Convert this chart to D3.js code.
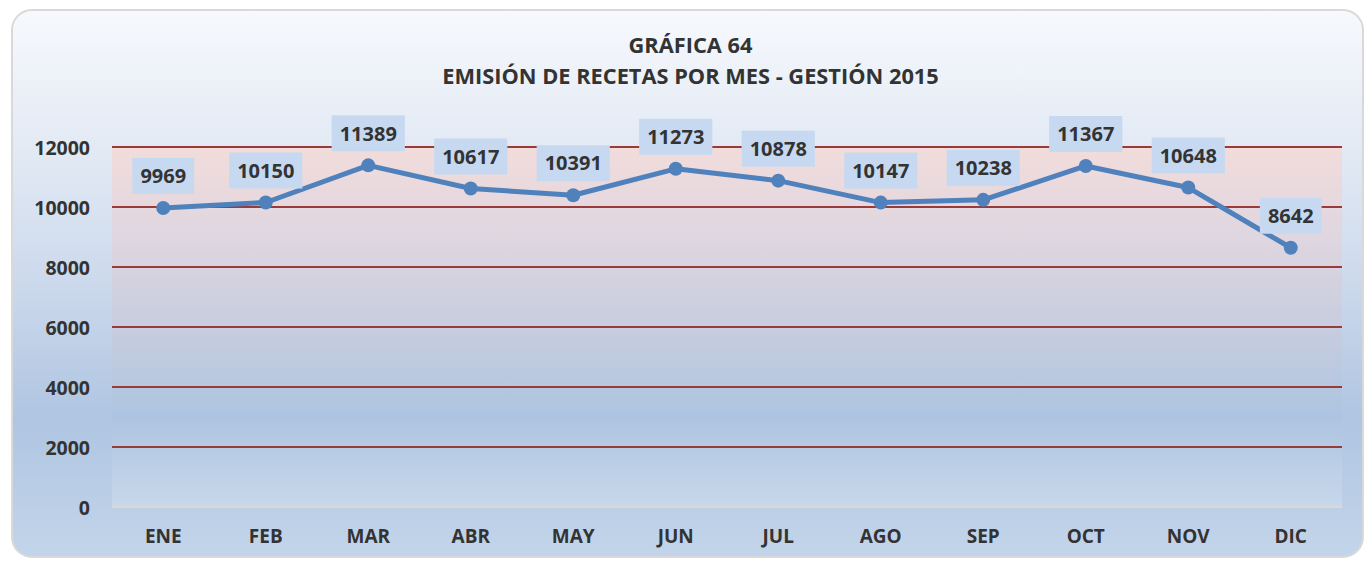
<!DOCTYPE html>
<html>
<head>
<meta charset="utf-8">
<script src="https://cdn.jsdelivr.net/npm/d3@7"></script>
<style>
  html, body { margin: 0; padding: 0; background: #ffffff; }
  svg { display: block; }
  text { font-family: "Open Sans", sans-serif; font-weight: 700; fill: #333333; }
</style>
</head>
<body>
<svg id="chart" width="1368" height="561"></svg>
<script>
const titleLines = ["GRÁFICA 64", "EMISIÓN DE RECETAS POR MES - GESTIÓN 2015"];
const months = ["ENE", "FEB", "MAR", "ABR", "MAY", "JUN", "JUL", "AGO", "SEP", "OCT", "NOV", "DIC"];
const recetas = [9969, 10150, 11389, 10617, 10391, 11273, 10878, 10147, 10238, 11367, 10648, 8642];
const yTicks = [0, 2000, 4000, 6000, 8000, 10000, 12000];

const W = 1368, H = 561;
const frame = { x: 12, y: 10, w: 1351, h: 547, r: 20 };
const plot = { left: 112, right: 1342, top: 147, bottom: 507 };

const svg = d3.select("#chart");
const defs = svg.append("defs");

const bgGrad = defs.append("linearGradient").attr("id", "bgGrad")
  .attr("x1", 0).attr("y1", 0).attr("x2", 0).attr("y2", 1);
[[0, "#f7f9fd"], [0.25, "#e3eaf4"], [0.5, "#ccd9ec"], [0.75, "#afc5e1"], [1, "#c3d5ea"]]
  .forEach(([o, c]) => bgGrad.append("stop").attr("offset", o).attr("stop-color", c));

const plotGrad = defs.append("linearGradient").attr("id", "plotGrad")
  .attr("x1", 0).attr("y1", 0).attr("x2", 0).attr("y2", 1);
[[0, "#f2dcdb"], [0.25, "#dfd6e0"], [0.5, "#c8cddf"], [0.75, "#adc4e0"], [1, "#c8d8eb"]]
  .forEach(([o, c]) => plotGrad.append("stop").attr("offset", o).attr("stop-color", c));

// chart frame
svg.append("rect")
  .attr("x", frame.x).attr("y", frame.y).attr("width", frame.w).attr("height", frame.h)
  .attr("rx", frame.r).attr("ry", frame.r)
  .attr("fill", "url(#bgGrad)").attr("stroke", "#d9d9d9").attr("stroke-width", 2);

const x = d3.scaleBand().domain(months).range([plot.left, plot.right]).padding(0);
const y = d3.scaleLinear().domain([0, 12000]).range([plot.bottom, plot.top]);

// plot area
svg.append("rect")
  .attr("x", plot.left).attr("y", plot.top)
  .attr("width", plot.right - plot.left).attr("height", plot.bottom - plot.top)
  .attr("fill", "url(#plotGrad)");

// gridlines
svg.append("g").selectAll("line")
  .data(yTicks.filter(t => t > 0))
  .join("line")
  .attr("x1", plot.left).attr("x2", plot.right)
  .attr("y1", d => y(d)).attr("y2", d => y(d))
  .attr("stroke", "#993b39").attr("stroke-width", 2);

// baseline
svg.append("line")
  .attr("x1", plot.left).attr("x2", plot.right)
  .attr("y1", y(0)).attr("y2", y(0))
  .attr("stroke", "#d9d9d9").attr("stroke-width", 2);

// y axis
const yAxis = d3.axisLeft(y).tickValues(yTicks).tickSize(0).tickPadding(0).tickFormat(d3.format("d"));
const gy = svg.append("g").attr("transform", `translate(${plot.left - 22},0)`).call(yAxis);
gy.select(".domain").remove();
gy.selectAll("text")
  .attr("font-size", 19.5).attr("font-family", "'Open Sans', sans-serif")
  .attr("font-weight", 700).attr("fill", "#333333").attr("dy", "0.36em");

// x axis
const xAxis = d3.axisBottom(x).tickSize(0).tickPadding(0);
const gx = svg.append("g").attr("transform", `translate(0,${plot.bottom})`).call(xAxis);
gx.select(".domain").remove();
gx.selectAll("text")
  .attr("font-size", 19).attr("font-family", "'Open Sans', sans-serif")
  .attr("font-weight", 700).attr("fill", "#333333")
  .attr("y", 36).attr("dy", 0);

// title
const titleX = frame.x + frame.w / 2 + 3;
svg.append("g").selectAll("text")
  .data(titleLines)
  .join("text")
  .attr("x", titleX)
  .attr("y", (d, i) => 53 + i * 31)
  .attr("text-anchor", "middle")
  .attr("font-size", 21.8)
  .text(d => d);

// line
const cx = d => x(d) + x.bandwidth() / 2;
const line = d3.line().x((d, i) => cx(months[i])).y(d => y(d));
svg.append("path")
  .datum(recetas)
  .attr("d", line)
  .attr("fill", "none")
  .attr("stroke", "#4f81bd")
  .attr("stroke-width", 5)
  .attr("stroke-linejoin", "round");

// markers
svg.append("g").selectAll("circle")
  .data(recetas)
  .join("circle")
  .attr("cx", (d, i) => cx(months[i]))
  .attr("cy", d => y(d))
  .attr("r", 7)
  .attr("fill", "#4f81bd");

// data labels
const labels = svg.append("g").selectAll("g")
  .data(recetas)
  .join("g")
  .attr("transform", (d, i) => `translate(${cx(months[i])},${y(d) - 32})`);
labels.append("text")
  .attr("text-anchor", "middle")
  .attr("dy", "0.36em")
  .attr("font-size", 20)
  .text(d => d);
labels.each(function () {
  const g = d3.select(this);
  const t = g.select("text");
  const w = t.node().getComputedTextLength();
  g.insert("rect", "text")
    .attr("x", -w / 2 - 8).attr("y", -18)
    .attr("width", w + 16).attr("height", 36)
    .attr("fill", "#c6d9f1");
});
</script>
</body>
</html>
